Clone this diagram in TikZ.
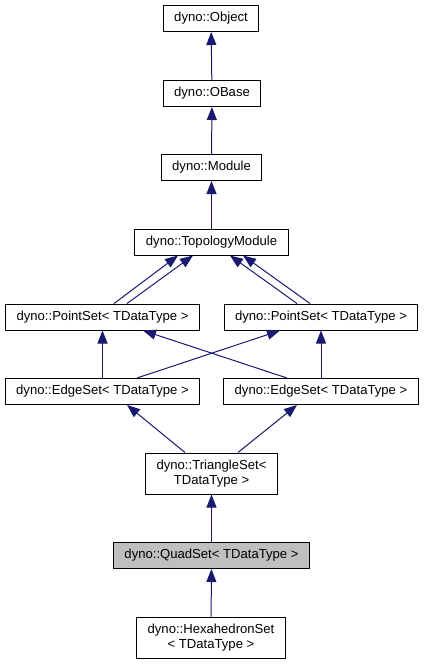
\documentclass[tikz,border=0pt]{standalone}
\usepackage{fontspec}
\setmainfont{Liberation Sans}
\usetikzlibrary{arrows.meta,positioning,calc}
\definecolor{edgeblue}{HTML}{191970}
\definecolor{hilite}{HTML}{BFBFBF}
\tikzset{cls/.style={draw=black,line width=1pt,fill=white,align=center,font=\fontsize{13.1}{14.6}\selectfont,inner xsep=11pt,inner ysep=0pt,minimum height=26pt}, cur/.style={cls,fill=hilite}, tall/.style={minimum height=41pt}, arr/.style={{Triangle[length=13pt,width=10pt]}-,draw=edgeblue,line width=1pt}}

\begin{document}
\begin{tikzpicture}[x=1pt,y=-1pt]
\useasboundingbox (0,0) rectangle (424,664);
\node[cls](obj)at(211,18.5){dyno::Object};\node[cls](obase)at(212,93.5){dyno::OBase};\node[cls](mod)at(211.5,167.5){dyno::Module};
\node[cls](topo)at(211.5,242){dyno::TopologyModule};
\node[cls](psl)at(102.5,317){dyno::PointSet< TDataType >};\node[cls](psr)at(321,317){dyno::PointSet< TDataType >};
\node[cls](esl)at(102.5,391.5){dyno::EdgeSet< TDataType >};\node[cls](esr)at(321,391.5){dyno::EdgeSet< TDataType >};
\node[cls,tall](tri)at(211.5,473.5){dyno::TriangleSet<\\TDataType >};
\node[cur](quad)at(211.5,555.5){dyno::QuadSet< TDataType >};
\node[cls,tall](hexa)at(211,637.5){dyno::HexahedronSet\\< TDataType >};
% inheritance edges, tip at the base class
\draw[arr](obj)--(obase);\draw[arr](obase)--(mod);\draw[arr](mod)--(topo);
\draw[arr]([xshift=-33.5pt]topo.south)--([xshift=11.5pt]psl.north);\draw[arr]([xshift=-18.5pt]topo.south)--([xshift=24.5pt]psl.north);
\draw[arr]([xshift=18.5pt]topo.south)--([xshift=-24pt]psr.north);\draw[arr]([xshift=31.5pt]topo.south)--([xshift=-11pt]psr.north);
\draw[arr](psl)--(esl);\draw[arr]([xshift=40.5pt]psl.south)--([xshift=-34pt]esr.north);
\draw[arr]([xshift=-41pt]psr.south)--([xshift=34.5pt]esl.north);\draw[arr](psr)--(esr);
\draw[arr]([xshift=24.5pt]esl.south)--([xshift=-26.5pt]tri.north);\draw[arr]([xshift=-24pt]esr.south)--([xshift=26.5pt]tri.north);
\draw[arr](tri)--(quad);\draw[arr](quad)--(hexa);
\end{tikzpicture}
\end{document}
